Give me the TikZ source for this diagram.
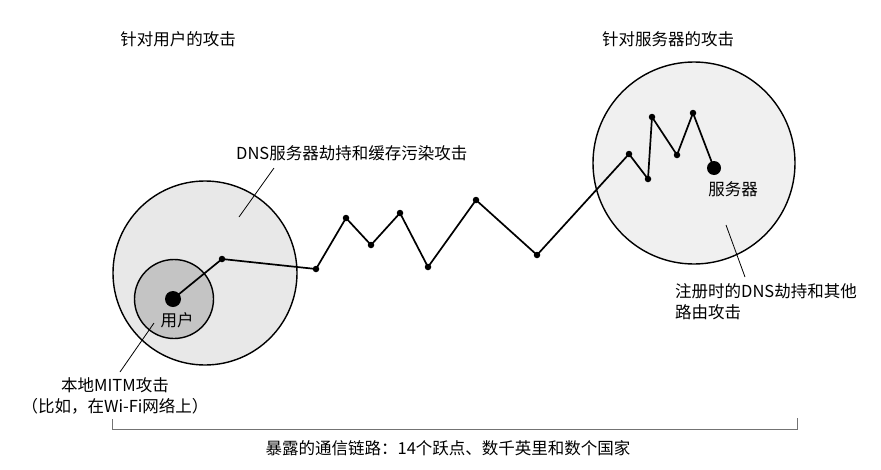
\documentclass[tikz,border=0pt]{standalone}
\usepackage{fontspec}
\setmainfont{Noto Sans CJK SC}

\begin{document}
\begin{tikzpicture}
[x=1pt,y=-1pt,
  zoneDecorate/.style={shape=circle,draw,line width=1.4pt,inner sep=0pt},%
  hopDecorate/.style={shape=circle,fill,inner sep=0pt,minimum size=6.5pt},%
  endDecorate/.style={shape=circle,fill,inner sep=0pt,minimum size=16pt},%
  lineDecorate/.style={-,line width=1.7pt,line join=round},%
  leaderDecorate/.style={-,line width=0.8pt},%
  textDecorate/.style={font=\fontsize{16.5}{21}\selectfont,inner sep=0pt}]
\useasboundingbox (0,0) rectangle (881,469);
%% attack zones
\node (userZone) at (205,273) [zoneDecorate,fill=black!9,minimum size=184pt] {};
\node (localZone) at (174,299) [zoneDecorate,fill=black!23,minimum size=79pt] {};
\node (serverZone) at (694,163) [zoneDecorate,fill=black!6,minimum size=202pt] {};
%% hops
\foreach \nodename/\x/\y in {
  h1/222/259, h2/316/269, h3/346/218, h4/371/245, h5/400/213,
  h6/428/267, h7/476/200, h8/537/255, h9/629/154, h10/648/179,
  h11/652/117, h12/677/155, h13/693/113}
{
  \node (\nodename) at (\x,\y) [hopDecorate] {};
}
\node (user) at (173,299) [endDecorate] {};
\node (server) at (714,168) [endDecorate,minimum size=14pt] {};
%% links
\path
\foreach \startnode/\endnode in {
  user/h1, h1/h2, h2/h3, h3/h4, h4/h5, h5/h6, h6/h7, h7/h8, h8/h9,
  h9/h10, h10/h11, h11/h12, h12/h13, h13/server}
{
  (\startnode.center) edge[lineDecorate] (\endnode.center)
};
%% labels
\node (userTitle) at (178,39) [textDecorate] {针对用户的攻击};
\node (serverTitle) at (668,39) [textDecorate] {针对服务器的攻击};
\node (userName) at (177,320) [textDecorate] {用户};
\node (serverName) at (733,189) [textDecorate] {服务器};
\node (dnsLabel) at (236,153) [textDecorate,anchor=west] {DNS服务器劫持和缓存污染攻击};
\node (regLabel) at (675,283) [textDecorate,anchor=north west,align=left]
  {注册时的DNS劫持和其他\\路由攻击};
\node (mitmLabel) at (115,396) [textDecorate,align=center]
  {本地MITM攻击\\（比如，在Wi-Fi网络上）};
\node (pathLabel) at (448,448) [textDecorate] {暴露的通信链路：14个跃点、数千英里和数个国家};
%% leaders
\coordinate (dnsTip) at (239,217);
\coordinate (dnsFoot) at (274,168);
\coordinate (regTip) at (726,225);
\coordinate (regFoot) at (745,277);
\coordinate (mitmTip) at (154,323);
\coordinate (mitmFoot) at (120,372);
\draw[leaderDecorate] (dnsFoot) -- (dnsTip);
\draw[leaderDecorate] (regFoot) -- (regTip);
\draw[leaderDecorate] (mitmFoot) -- (mitmTip);
%% span bracket
\coordinate (spanL) at (112,419);
\coordinate (spanR) at (797,418);
\draw[line width=1pt,black!55] (spanL) -- (spanL |- 0,429) -- (spanR |- 0,429) -- (spanR);
\end{tikzpicture}
\end{document}
